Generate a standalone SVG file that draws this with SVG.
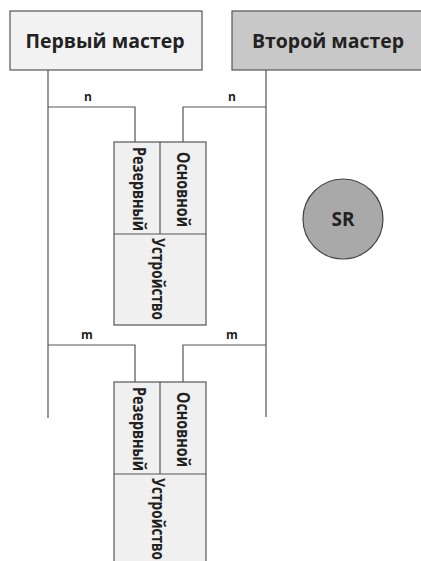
<svg xmlns="http://www.w3.org/2000/svg" width="421" height="561" viewBox="0 0 421 561">
<style>
.ln{fill:none;stroke:#555;stroke-width:1.2}
.box{stroke:#555;stroke-width:1.2}
.t{font-family:"Open Sans","Liberation Sans",sans-serif;font-weight:700;fill:#222}
.h{font-size:20px}
.v{font-size:18px}
.s{font-size:12px}
</style>
<rect width="421" height="561" fill="#fff"/>
<g id="connectors">
<path class="ln" d="M48,70V418M266,70V417"/>
<path class="ln" d="M48,107H135V142M266,107H183V142"/>
<path class="ln" d="M48,345H135V382M266,345H183V382"/>
<text class="t s" x="88" y="101" text-anchor="middle">n</text>
<text class="t s" x="232" y="101" text-anchor="middle">n</text>
<text class="t s" x="87" y="339" text-anchor="middle">m</text>
<text class="t s" x="232" y="339" text-anchor="middle">m</text>
</g>
<g id="master1">
<rect class="box" x="10" y="11" width="192" height="59" fill="#f2f2f2"/>
<text class="t h" x="105" y="48" text-anchor="middle" textLength="159" lengthAdjust="spacingAndGlyphs">Первый мастер</text>
</g>
<g id="master2">
<rect class="box" x="232" y="11" width="200" height="59" fill="#c8c8c8"/>
<text class="t h" x="328" y="48" text-anchor="middle" textLength="152" lengthAdjust="spacingAndGlyphs">Второй мастер</text>
</g>
<g id="device1">
<rect class="box" x="114" y="142" width="92" height="183" fill="#f0f0f0"/>
<path class="ln" d="M114,234H206M160,142V234"/>
<text class="t v" transform="translate(133,147) rotate(90)" textLength="84" lengthAdjust="spacingAndGlyphs">Резервный</text>
<text class="t v" transform="translate(177,152) rotate(90)" textLength="75" lengthAdjust="spacingAndGlyphs">Основной</text>
<text class="t v" transform="translate(152,238) rotate(90)" textLength="82" lengthAdjust="spacingAndGlyphs">Устройство</text>
</g>
<g id="device2">
<rect class="box" x="114" y="382" width="92" height="190" fill="#f0f0f0"/>
<path class="ln" d="M114,474H206M160,382V474"/>
<text class="t v" transform="translate(133,387) rotate(90)" textLength="84" lengthAdjust="spacingAndGlyphs">Резервный</text>
<text class="t v" transform="translate(177,392) rotate(90)" textLength="75" lengthAdjust="spacingAndGlyphs">Основной</text>
<text class="t v" transform="translate(152,478) rotate(90)" textLength="82" lengthAdjust="spacingAndGlyphs">Устройство</text>
</g>
<g id="sr">
<circle cx="343" cy="219" r="40" fill="#a9a9a9" stroke="#444" stroke-width="1.2"/>
<text class="t" x="343" y="226" font-size="19" text-anchor="middle">SR</text>
</g>
</svg>
